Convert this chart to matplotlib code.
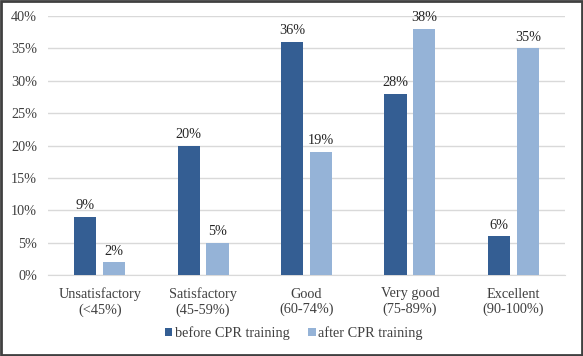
import matplotlib
matplotlib.use("Agg")
import matplotlib.pyplot as plt
import numpy as np
from matplotlib.patches import Rectangle

categories = ["Unsatisfactory\n(<45%)", "Satisfactory\n(45-59%)", "Good\n(60-74%)",
              "Very good\n(75-89%)", "Excellent\n(90-100%)"]
before = [9, 20, 36, 28, 6]
after = [2, 5, 19, 38, 35]
series_names = ["before CPR training", "after CPR training"]
yticks = [0, 5, 10, 15, 20, 25, 30, 35, 40]

c_before = "#345E93"
c_after = "#95B3D7"
fs = 10.3

plt.rcParams['font.family'] = ['Liberation Serif', 'DejaVu Serif']
fig = plt.figure(figsize=(5.83, 3.56), dpi=100)
ax = fig.add_axes([48/583, 1 - 275/356, (565-48)/583, (275-16)/356])

x = np.arange(len(categories))
w = 0.215
off = 0.14
b1 = ax.bar(x - off, before, w, color=c_before, label=series_names[0], zorder=3)
b2 = ax.bar(x + off, after, w, color=c_after, label=series_names[1], zorder=3)
for bars, vals in ((b1, before), (b2, after)):
    for r, v in zip(bars, vals):
        ax.text(r.get_x() + r.get_width()/2, v + 0.7, f"{v}%", ha="center", va="bottom",
                fontsize=fs, color="#262626")

ax.set_xlim(-0.5, 4.5)
ax.set_ylim(0, 40)
ax.set_yticks(yticks)
ax.set_yticklabels([f"{t}%" for t in yticks], fontsize=fs, color="#404040")
ax.set_xticks(x)
ax.set_xticklabels(categories, fontsize=fs, color="#404040", linespacing=1.2)
ax.tick_params(axis="both", length=0)
ax.tick_params(axis="y", pad=8)
ax.tick_params(axis="x", pad=9)
ax.yaxis.grid(True, color="#D9D9D9", linewidth=1, zorder=0)
ax.set_axisbelow(True)
for s in ["top", "right", "left"]:
    ax.spines[s].set_visible(False)
ax.spines["bottom"].set_color("#D9D9D9")

leg = fig.legend(handles=[b1, b2], labels=series_names, loc="center",
                 bbox_to_anchor=(294/583, 1 - 333/356), ncol=2, frameon=False,
                 fontsize=fs, handlelength=0.5, handleheight=0.5, handletextpad=0.2,
                 columnspacing=1.3)
for t in leg.get_texts():
    t.set_color("#404040")

fig.patches.append(Rectangle((0.002, 0.003), 0.996, 0.994, transform=fig.transFigure,
                             fill=False, edgecolor="#404040", linewidth=2))
fig.savefig("out.png", dpi=100)
